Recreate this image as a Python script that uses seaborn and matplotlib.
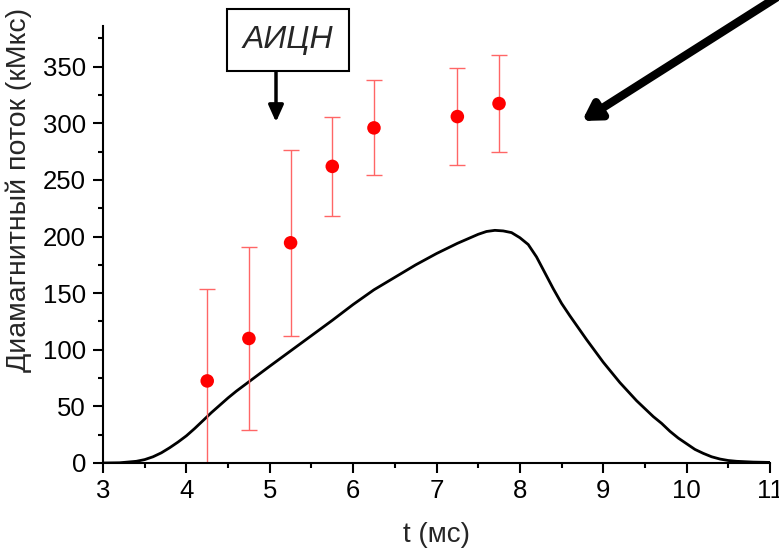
import matplotlib
matplotlib.use("Agg")
import matplotlib.pyplot as plt
import seaborn as sns
import pandas as pd
from matplotlib.ticker import MultipleLocator

# ---- data ----
curve_t = [3.0, 3.2, 3.4, 3.5, 3.6, 3.7, 3.8, 3.9, 4.0, 4.1, 4.2, 4.3, 4.4, 4.5,
           4.6, 4.7, 4.8, 4.9, 5.0, 5.25, 5.5, 5.75, 6.0, 6.25, 6.5, 6.75, 7.0,
           7.25, 7.5, 7.6, 7.7, 7.8, 7.9, 8.0, 8.1, 8.2, 8.3, 8.4, 8.5, 8.6,
           8.7, 8.8, 8.9, 9.0, 9.1, 9.2, 9.3, 9.4, 9.5, 9.6, 9.7, 9.8, 9.9,
           10.0, 10.1, 10.2, 10.3, 10.4, 10.5, 10.6, 10.8, 11.0]
curve_flux = [0, 0.2, 1.5, 3, 5.5, 9, 13.5, 18.5, 24, 30.5, 37.5, 44.5, 51, 57.5,
              63.5, 69, 74.5, 80, 85.5, 99, 112.5, 126, 140, 153, 164, 175, 185,
              194, 202, 204.5, 205.5, 205, 203.5, 199, 193, 182, 168, 154, 141, 130,
              119.5, 109, 99, 89, 80, 71, 63, 55, 48, 41, 35, 28, 22,
              17, 12, 8.5, 5.5, 3.5, 2.2, 1.5, 0.8, 0.5]

point_t = [4.25, 4.75, 5.25, 5.75, 6.25, 7.25, 7.75]
point_flux = [72.5, 110, 194.5, 262, 296, 306, 317.5]
point_err = [81, 81, 82, 43.5, 42, 43, 43]

x_ticks = [3, 4, 5, 6, 7, 8, 9, 10, 11]
y_ticks = [0, 50, 100, 150, 200, 250, 300, 350]

sns.set_style("ticks")
plt.rcParams['font.family'] = ['Liberation Sans', 'DejaVu Sans']

fig = plt.figure(figsize=(7.79, 5.49), dpi=100)
ax = fig.add_axes([103 / 779, 1 - 463 / 549, (770 - 103) / 779, (463 - 26) / 549])

df_curve = pd.DataFrame({"t": curve_t, "flux": curve_flux})
df_pts = pd.DataFrame({"t": point_t, "flux": point_flux, "err": point_err})

sns.lineplot(data=df_curve, x="t", y="flux", ax=ax, color="black", linewidth=2.0)
ax.errorbar(df_pts["t"], df_pts["flux"], yerr=df_pts["err"], fmt="none",
            ecolor=(1, 0.4, 0.4), elinewidth=1.0, capsize=6, capthick=1.0, zorder=2)
sns.scatterplot(data=df_pts, x="t", y="flux", ax=ax, color="red", s=95,
                edgecolor="none", zorder=3)

ax.set_xlim(3, 11)
ax.set_ylim(0, 386)
ax.set_xticks(x_ticks)
ax.set_yticks(y_ticks)
ax.xaxis.set_minor_locator(MultipleLocator(0.5))
ax.yaxis.set_minor_locator(MultipleLocator(25))
ax.tick_params(which="major", length=7.2, width=1.5, labelsize=18.5, color="black",
               labelcolor="black")
ax.tick_params(which="minor", length=3.6, width=1.5, color="black")
ax.tick_params(axis="y", which="major", pad=5)
ax.tick_params(axis="x", which="major", pad=4)

for s in ["top", "right"]:
    ax.spines[s].set_visible(False)
for s in ["left", "bottom"]:
    ax.spines[s].set_linewidth(1.5)
    ax.spines[s].set_color("black")

ax.set_xlabel("t (мс)", fontsize=20, labelpad=14)
ax.set_ylabel("Диамагнитный поток (кМкс)", fontsize=20.5, loc="bottom")
ax.yaxis.set_label_coords(-0.107, (463 - 372) / 437)

# annotation box with arrow
fig.text(288 / 779, 1 - 40 / 549, "АИЦН", fontsize=23, style="italic",
         ha="center", va="center",
         bbox=dict(boxstyle="square,pad=0.5", facecolor="white",
                   edgecolor="black", linewidth=1.5))
ax.annotate("", xy=(276 / 779, 1 - 122 / 549), xycoords="figure fraction",
            xytext=(276 / 779, 1 - 69 / 549), textcoords="figure fraction",
            arrowprops=dict(arrowstyle="-|>,head_length=1.0,head_width=0.45",
                            color="black", linewidth=2.5, shrinkA=0, shrinkB=0),
            annotation_clip=False)
# big arrow
ax.annotate("", xy=(582 / 779, 1 - 121 / 549), xycoords="figure fraction",
            xytext=(782 / 779, 1 + 6 / 549), textcoords="figure fraction",
            arrowprops=dict(arrowstyle="-|>,head_length=1.0,head_width=0.6",
                            color="black", linewidth=6, shrinkA=0, shrinkB=0),
            annotation_clip=False)

fig.savefig("out.png", dpi=100)
